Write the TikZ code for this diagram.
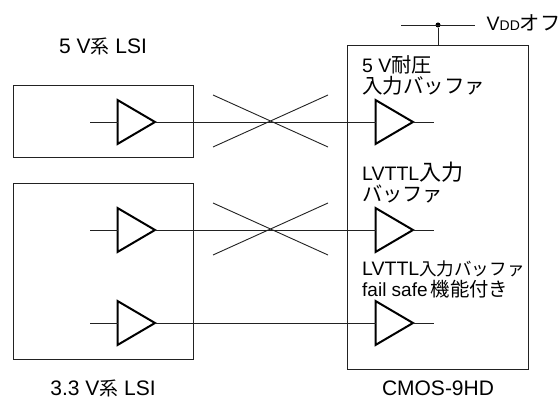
\documentclass[tikz,border=0pt]{standalone}
\usepackage{fontspec}
\setmainfont{Liberation Sans}
\newfontfamily\cjk{Noto Sans CJK JP}[Scale=0.9]
\newcommand{\jp}[2]{{\cjk\fontsize{#1}{21}\selectfont #2}}
\usetikzlibrary{shapes.geometric}
\definecolor{ink}{HTML}{222222}
\tikzset{
  x=1pt,y=-1pt,
  wire/.style={draw=ink,line width=0.9pt},
  panel/.style={draw=ink,line width=1pt},
  buf/.style={draw=black,fill=white,line width=2pt,isosceles triangle,isosceles triangle stretches,
    minimum width=44pt,minimum height=37.5pt,inner sep=0pt,outer sep=0pt,shape border rotate=0,anchor=west},
  lab/.style={anchor=base west,align=left,inner sep=0pt,font=\fontsize{19.5}{21}\selectfont,text=black},
  captxt/.style={inner sep=0pt,anchor=base,font=\fontsize{21}{22}\selectfont,text=black},
  dot/.style={circle,fill=black,inner sep=0pt,minimum size=5pt},
}
\begin{document}
\begin{tikzpicture}
\useasboundingbox (0,0) rectangle (560,398);
\fill[white] (0,0) rectangle (560,398);
% boxes
\node[panel,minimum width=180.5pt,minimum height=72pt,inner sep=0pt] (lsi5) at (103.5,122) {};
\node[panel,minimum width=180.5pt,minimum height=176pt,inner sep=0pt] (lsi3) at (103.5,271.5) {};
\node[panel,minimum width=180.5pt,minimum height=323pt,inner sep=0pt] (cmos) at (438,207.5) {};
% crosses
\coordinate (x1a) at (213,95); \coordinate (x1b) at (328,147);
\coordinate (x1c) at (213,147); \coordinate (x1d) at (328,95);
\coordinate (x2a) at (213,203); \coordinate (x2b) at (328,255);
\coordinate (x2c) at (213,255); \coordinate (x2d) at (328,203);
\draw[wire] (x1a) -- (x1b); \draw[wire] (x1c) -- (x1d);
\draw[wire] (x2a) -- (x2b); \draw[wire] (x2c) -- (x2d);
% stubs
\coordinate (i1) at (90,122); \coordinate (i2) at (90,230); \coordinate (i3) at (90,323);
\coordinate (o1) at (434,122); \coordinate (o2) at (434,230); \coordinate (o3) at (434,323);
% buffers
\node[buf] (a1) at (117.5,122) {};
\node[buf] (a2) at (117.5,230) {};
\node[buf] (a3) at (117.5,323) {};
\node[buf] (b1) at (375.5,122) {};
\node[buf] (b2) at (375.5,230) {};
\node[buf] (b3) at (375.5,323) {};
\foreach \n in {1,2,3}{
  \draw[wire] (i\n) -- (a\n.west);
  \draw[wire] (a\n.apex) -- (b\n.west);
  \draw[wire] (b\n.apex) -- (o\n);
}
% Vdd
\coordinate (v1) at (401,25); \coordinate (v2) at (475,25);
\node[dot] (vd) at (438,25) {};
\draw[wire] (v1) -- (v2);
\draw[wire] (vd) -- (vd |- cmos.north);
% labels
\node[captxt] (t5) at (103,53.5) {5 V{\cjk 系} LSI};
\node[captxt] (t3) at (103,395) {3.3 V{\cjk 系} LSI};
\node[captxt] (tc) at (438,395) {CMOS-9HD};
\node[lab] (tv) at (486.5,30.5) {V{\fontsize{14}{14}\selectfont DD}\jp{22.5}{オフ}};
\node[lab] (l1) at (362,94) {5 V\jp{22.5}{耐圧}\\\jp{22.8}{入力バッファ}};
\node[lab] (l2) at (362,202) {LVTTL\jp{24.5}{入力}\\\jp{22.5}{バッファ}};
\node[lab] (l3) at (362,297) {LVTTL{\cjk 入力バッファ}\\{\fontsize{19}{21}\selectfont fail safe}\,\jp{21.5}{機能付き}};
\end{tikzpicture}
\end{document}
